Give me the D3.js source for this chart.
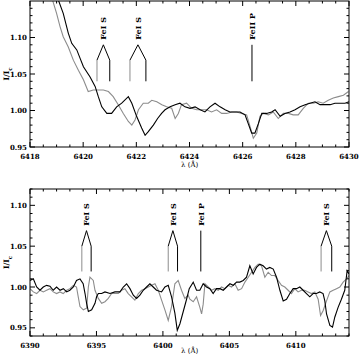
<!DOCTYPE html>
<html>
<head>
<meta charset="utf-8">
<script src="https://cdn.jsdelivr.net/npm/d3@7"></script>
<style>
  body { margin: 0; background: #fff; }
  text { font-family: "DejaVu Serif", "Liberation Serif", serif; fill: #000; }
</style>
</head>
<body>
<div id="chart"></div>
<script>
// spectra, [wavelength, I/Ic]
var topBlack = [[6419.07,1.151],[6419.25,1.133],[6419.44,1.106],[6419.57,1.092],[6419.76,1.083],[6419.9,1.07],[6420.01,1.060],
  [6420.26,1.046],[6420.45,1.033],[6420.57,1.019],[6420.70,1.005],[6420.89,0.996],[6421.07,0.996],[6421.26,1.005],
  [6421.45,1.010],[6421.70,1.019],[6421.83,1.010],[6422.01,0.992],[6422.2,0.976],[6422.33,0.966],[6422.45,0.971],
  [6422.64,0.980],[6422.80,0.989],[6422.95,0.996],[6423.08,1.001],[6423.27,1.005],[6423.46,1.008],[6423.64,1.010],
  [6423.83,1.005],[6424.02,1.003],[6424.21,1.005],[6424.40,1.001],[6424.58,0.998],[6424.77,1.005],[6424.96,1.010],
  [6425.15,1.005],[6425.34,1.001],[6425.52,0.998],[6425.71,0.998],[6425.90,0.998],[6426.09,0.994],[6426.21,0.982],
  [6426.34,0.969],[6426.46,0.969],[6426.59,0.982],[6426.72,0.996],[6426.90,0.996],[6427.09,0.998],[6427.22,1.001],
  [6427.41,0.992],[6427.59,0.996],[6427.78,0.998],[6427.97,1.001],[6428.16,1.005],[6428.35,1.008],[6428.53,1.010],
  [6428.72,1.012],[6428.91,1.008],[6429.10,1.008],[6429.29,1.008],[6429.47,1.010],[6429.66,1.010],[6429.85,1.010],[6430,1.012]];
var topGray = [[6418.85,1.151],[6419.0,1.133],[6419.13,1.115],[6419.25,1.101],[6419.44,1.087],[6419.63,1.069],[6419.82,1.055],
  [6420.01,1.042],[6420.19,1.026],[6420.38,1.028],[6420.57,1.028],[6420.76,1.028],[6420.95,1.026],[6421.13,1.019],
  [6421.32,1.008],[6421.51,0.996],[6421.70,0.985],[6421.83,0.980],[6421.95,0.987],[6422.08,1.001],[6422.26,1.010],
  [6422.45,1.010],[6422.58,1.014],[6422.77,1.012],[6422.96,1.008],[6423.14,1.005],[6423.33,1.003],[6423.46,0.989],
  [6423.58,0.996],[6423.70,1.008],[6423.89,1.010],[6424.08,1.003],[6424.27,1.001],[6424.46,1.001],[6424.64,1.001],
  [6424.83,0.998],[6425.02,1.001],[6425.21,0.996],[6425.40,0.996],[6425.59,0.998],[6425.77,0.998],[6425.96,0.996],
  [6426.15,0.994],[6426.28,0.978],[6426.40,0.962],[6426.53,0.969],[6426.65,0.992],[6426.78,0.996],[6426.97,0.994],
  [6427.15,0.998],[6427.34,0.989],[6427.53,0.996],[6427.72,0.996],[6427.90,0.994],[6428.09,0.994],[6428.28,1.003],
  [6428.47,1.010],[6428.66,1.010],[6428.84,1.012],[6429.03,1.010],[6429.22,1.014],[6429.41,1.017],[6429.60,1.019],
  [6429.79,1.021],[6429.98,1.026]];
var botBlack = [[6390,1.008],[6390.25,1.010],[6390.5,1.000],[6390.75,0.996],[6391.0,1.000],[6391.25,1.002],[6391.5,1.001],
  [6391.75,0.996],[6392.0,1.000],[6392.26,0.996],[6392.51,0.998],[6392.76,0.994],[6393.0,0.996],[6393.26,1.000],
  [6393.5,1.008],[6393.76,1.010],[6394.0,1.004],[6394.14,0.992],[6394.26,0.980],[6394.39,0.970],[6394.64,0.972],
  [6394.89,0.980],[6395.01,0.988],[6395.14,0.992],[6395.39,0.992],[6395.64,0.994],[6396.02,0.992],[6396.39,0.994],
  [6396.77,0.994],[6397.02,1.000],[6397.27,1.004],[6397.52,0.998],[6397.77,0.990],[6398.02,0.986],[6398.27,0.990],
  [6398.52,0.996],[6398.77,1.000],[6399.02,1.004],[6399.27,1.000],[6399.52,0.996],[6399.90,0.994],[6400.15,1.000],
  [6400.40,1.002],[6400.65,0.988],[6400.90,0.968],[6401.08,0.947],[6401.28,0.955],[6401.53,0.970],[6401.78,0.985],
  [6401.98,0.998],[6402.28,1.006],[6402.53,0.996],[6402.78,0.996],[6403.03,1.004],[6403.28,1.000],[6403.53,0.998],
  [6403.78,0.992],[6404.03,0.998],[6404.29,0.998],[6404.54,0.996],[6404.79,1.000],[6405.04,1.004],[6405.29,1.002],
  [6405.54,1.006],[6405.79,1.006],[6406.04,1.008],[6406.29,1.012],[6406.54,1.026],[6406.79,1.016],[6407.04,1.024],
  [6407.29,1.028],[6407.54,1.026],[6407.79,1.022],[6408.04,1.024],[6408.30,1.022],[6408.55,1.012],[6408.80,0.996],
  [6409.05,0.983],[6409.30,0.985],[6409.55,0.992],[6409.80,0.998],[6410.05,0.998],[6410.30,1.000],[6410.55,0.996],
  [6410.80,0.992],[6411.05,0.988],[6411.30,0.992],[6411.55,0.992],[6411.80,0.994],[6412.05,0.992],[6412.18,0.983],
  [6412.31,0.967],[6412.56,0.953],[6412.76,0.951],[6412.93,0.963],[6413.18,0.975],[6413.43,0.985],[6413.68,0.996],
  [6413.86,1.020],[6414.0,1.016]];
var botGray = [[6390,0.998],[6390.25,0.994],[6390.5,0.992],[6390.75,0.996],[6391,0.994],[6391.25,0.996],[6391.5,0.998],
  [6391.75,0.994],[6392,0.992],[6392.25,0.994],[6392.5,0.992],[6392.76,0.996],[6393,0.998],[6393.26,1.002],
  [6393.5,1.000],[6393.63,0.988],[6393.76,0.976],[6394.01,0.972],[6394.26,0.974],[6394.39,1.000],[6394.51,1.012],
  [6394.76,1.008],[6394.89,0.996],[6395.14,0.986],[6395.39,0.980],[6395.64,0.982],[6395.89,0.986],[6396.14,0.992],
  [6396.39,0.992],[6396.64,0.992],[6396.89,0.996],[6397.14,0.998],[6397.39,0.992],[6397.64,0.988],[6397.89,0.984],
  [6398.15,0.992],[6398.40,0.996],[6398.65,0.998],[6398.90,1.000],[6399.15,1.002],[6399.40,1.004],[6399.65,0.996],
  [6399.90,0.984],[6400.15,0.972],[6400.40,0.959],[6400.65,0.976],[6400.90,1.004],[6401.15,1.008],[6401.40,0.996],
  [6401.65,0.986],[6401.90,0.990],[6402.03,0.985],[6402.28,0.982],[6402.53,0.988],[6402.78,0.975],[6402.91,0.967],
  [6403.03,0.979],[6403.16,1.004],[6403.41,1.000],[6403.66,0.996],[6403.91,0.998],[6404.16,0.996],[6404.41,1.000],
  [6404.66,0.998],[6404.91,1.002],[6405.16,1.000],[6405.41,1.004],[6405.66,0.996],[6405.92,0.998],[6406.17,1.006],
  [6406.42,1.012],[6406.67,1.018],[6406.92,1.024],[6407.17,1.028],[6407.42,1.026],[6407.67,1.012],[6407.92,1.018],
  [6408.17,1.014],[6408.42,1.014],[6408.67,1.008],[6408.92,1.002],[6409.17,1.000],[6409.42,0.996],[6409.67,0.992],
  [6409.92,0.998],[6410.17,0.994],[6410.42,0.996],[6410.67,0.996],[6410.92,0.994],[6411.18,0.992],[6411.43,0.994],
  [6411.68,0.985],[6411.86,0.965],[6412.05,0.971],[6412.31,0.983],[6412.56,0.994],[6412.81,0.996],[6413.06,0.998],
  [6413.31,1.000],[6413.56,1.006],[6413.81,1.010],[6414.0,1.014]];

// line identifications: label, wavelength in gray spectrum, wavelength in black spectrum
var topLines = [["FeI S",6420.52,6421.0],["FeI S",6421.76,6422.36],["FeII P",null,6426.35]];
var botLines = [["FeI S",6393.9,6394.6],["FeI S",6400.4,6401.1],["FeI P",null,6402.85],["FeI S",6411.9,6412.7]];

var topXTicks = [6418,6420,6422,6424,6426,6428,6430];
var botXTicks = [6390,6395,6400,6405,6410];
var yTicks = [0.95,1.00,1.05,1.10];

var svg = d3.select("#chart").append("svg")
  .attr("width", 360).attr("height", 357);

function panel(opt) {
  var x = d3.scaleLinear().domain(opt.xdom).range([30, 349]);
  var y = d3.scaleLinear().domain(opt.ydom).range([opt.y1, opt.y0]);
  var g = svg.append("g");

  var line = d3.line().x(function(d) { return x(d[0]); }).y(function(d) { return y(d[1]); });
  g.append("defs").append("clipPath").attr("id", opt.id)
    .append("rect").attr("x", 30).attr("y", opt.y0).attr("width", 319).attr("height", opt.y1 - opt.y0);
  var body = g.append("g").attr("clip-path", "url(#" + opt.id + ")");
  body.append("path").datum(opt.gray).attr("d", line)
    .attr("fill", "none").attr("stroke", "#8c8c8c").attr("stroke-width", 1.1);
  body.append("path").datum(opt.black).attr("d", line)
    .attr("fill", "none").attr("stroke", "#000").attr("stroke-width", 1.1);

  // line markers
  opt.lines.forEach(function(l) {
    var xb = x(l[2]);
    var xm = xb;
    if (l[1] != null) {
      var xg = x(l[1]);
      xm = (xg + xb) / 2;
      g.append("line").attr("x1", xg).attr("x2", xg).attr("y1", y(opt.mk[0])).attr("y2", y(opt.mk[1]))
        .attr("stroke", "#8c8c8c").attr("stroke-width", 1);
      g.append("path").attr("d", "M" + xg + "," + y(opt.mk[1]) + "L" + xm + "," + y(opt.mk[2]) + "L" + xb + "," + y(opt.mk[1]))
        .attr("fill", "none").attr("stroke", "#000").attr("stroke-width", 1);
      g.append("line").attr("x1", xb).attr("x2", xb).attr("y1", y(opt.mk[0])).attr("y2", y(opt.mk[1]))
        .attr("stroke", "#000").attr("stroke-width", 1);
    } else {
      g.append("line").attr("x1", xb).attr("x2", xb).attr("y1", y(opt.mk[0])).attr("y2", y(opt.mk[2]))
        .attr("stroke", "#000").attr("stroke-width", 1);
    }
    g.append("text").attr("transform", "translate(" + (xm + 3) + "," + y(opt.mk[3]) + ") rotate(-90)")
      .style("font-size", "8px").style("font-weight", "bold").text(l[0]);
  });

  // frame with inward ticks
  g.append("rect").attr("x", 30).attr("y", opt.y0).attr("width", 319).attr("height", opt.y1 - opt.y0)
    .attr("fill", "none").attr("stroke", "#000").attr("stroke-width", 1);
  var minorX = d3.range(opt.xdom[0], opt.xdom[1] + 1e-6, opt.xminor);
  var minorY = d3.range(0.95, opt.ydom[1], 0.01).concat(opt.ydom[0] < 0.95 ? [0.94] : []);
  minorX.forEach(function(v) {
    var major = opt.xticks.some(function(t) { return Math.abs(t - v) < 1e-6; });
    var len = major ? 5 : 2.5;
    g.append("line").attr("x1", x(v)).attr("x2", x(v)).attr("y1", opt.y1).attr("y2", opt.y1 - len).attr("stroke", "#000");
    g.append("line").attr("x1", x(v)).attr("x2", x(v)).attr("y1", opt.y0).attr("y2", opt.y0 + len).attr("stroke", "#000");
  });
  minorY.forEach(function(v) {
    if (v < opt.ydom[0] - 1e-6 || v > opt.ydom[1] + 1e-6) return;
    var major = yTicks.some(function(t) { return Math.abs(t - v) < 1e-6; });
    var len = major ? 5 : 2.5;
    g.append("line").attr("x1", 30).attr("x2", 30 + len).attr("y1", y(v)).attr("y2", y(v)).attr("stroke", "#000");
    g.append("line").attr("x1", 349).attr("x2", 349 - len).attr("y1", y(v)).attr("y2", y(v)).attr("stroke", "#000");
  });

  // tick labels
  opt.xticks.forEach(function(t) {
    g.append("text").attr("x", x(t)).attr("y", opt.y1 + 12).attr("text-anchor", "middle")
      .style("font-size", "7px").style("font-weight", "bold").text(t);
  });
  yTicks.forEach(function(t) {
    g.append("text").attr("x", 27).attr("y", y(t) + 2.5).attr("text-anchor", "end")
      .style("font-size", "7px").style("font-weight", "bold").text(t.toFixed(2));
  });

  var yl = g.append("text").attr("transform", "translate(9," + ((opt.y0 + opt.y1) / 2) + ") rotate(-90)")
    .attr("text-anchor", "middle").style("font-size", "7.5px").style("font-weight", "bold");
  yl.append("tspan").text("I/I");
  yl.append("tspan").attr("baseline-shift", "sub").style("font-size", "5.5px").text("c");

  g.append("text").attr("x", 181).attr("y", opt.labelY).style("font-size", "7px").text("\u03bb (\u00c5)");
}

panel({id: "c1", xdom: [6418, 6430], ydom: [0.95, 1.15], y0: 1, y1: 147, gray: topGray, black: topBlack,
  lines: topLines, xticks: topXTicks, xminor: 0.5, labelY: 167, mk: [1.040, 1.069, 1.090, 1.097]});
panel({id: "c2", xdom: [6390, 6414], ydom: [0.94, 1.12], y0: 189, y1: 336, gray: botGray, black: botBlack,
  lines: botLines, xticks: botXTicks, xminor: 1, labelY: 353, mk: [1.019, 1.050, 1.069, 1.075]});
</script>
</body>
</html>
